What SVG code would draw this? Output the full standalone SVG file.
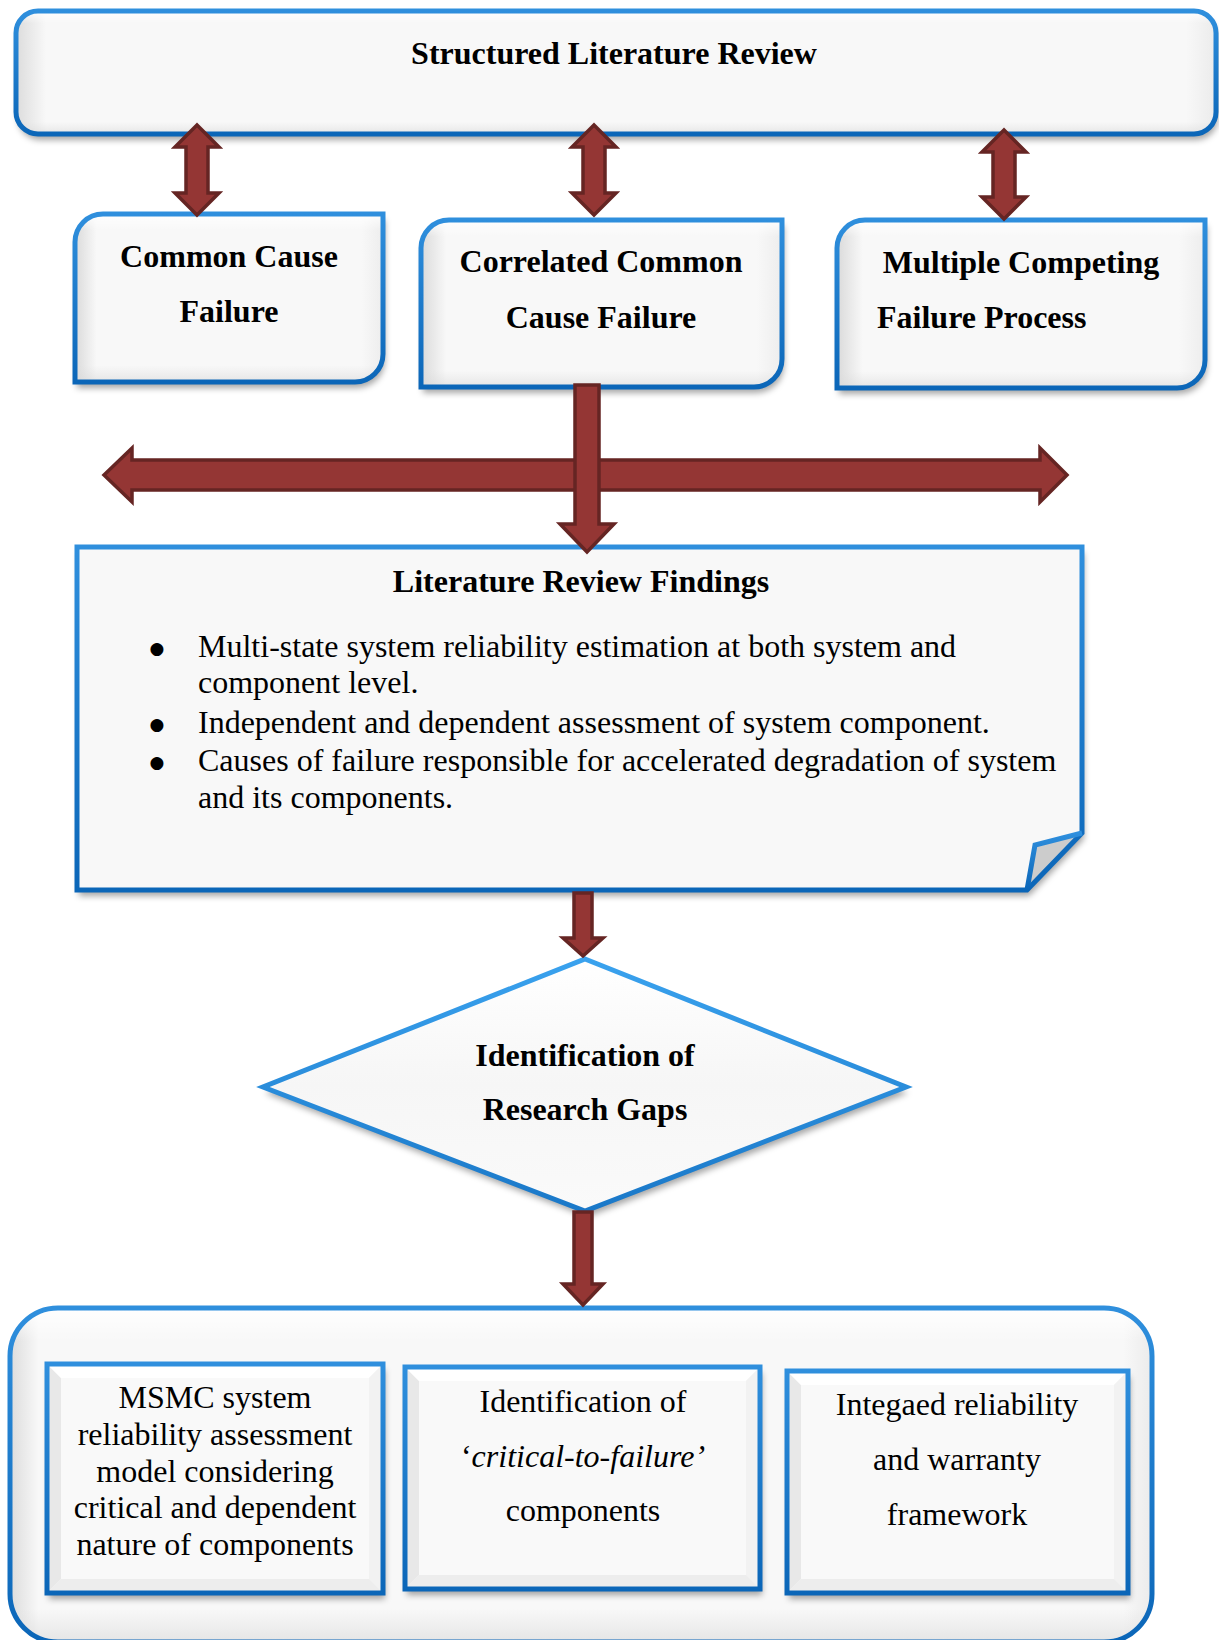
<svg xmlns="http://www.w3.org/2000/svg" width="1219" height="1640" viewBox="0 0 1219 1640">
  <defs>
    <style>
      .t { font-family: "Liberation Serif", "Times New Roman", serif; font-size: 32px; fill: #000; }
      .b { font-weight: bold; }
      .c { text-anchor: middle; }
      .bullet { font-family: "DejaVu Sans", sans-serif; font-size: 17px; text-anchor: middle; fill: #000; }
      .edge { fill: none; stroke: url(#edgeBlue); stroke-width: 5; }
      .edge2 { fill: none; stroke: url(#edgeBright); stroke-width: 5; stroke-linejoin: miter; }
      .arrow { fill: #943634; stroke: #652523; stroke-width: 3.5; stroke-linejoin: miter; }
      .facetL { fill: #E8E8E8; }
      .facetT { fill: #FFFFFF; }
      .facetR { fill: #F2F2F2; }
      .facetB { fill: #EDEDED; }
      .face { fill: #F9F9F9; }
    </style>
    <linearGradient id="edgeBlue" x1="0" y1="0" x2="0" y2="1">
      <stop offset="0" stop-color="#2F8FDD"/>
      <stop offset="1" stop-color="#0B66B8"/>
    </linearGradient>
    <linearGradient id="edgeBright" x1="0" y1="0" x2="0" y2="1">
      <stop offset="0" stop-color="#3AA2EE"/>
      <stop offset="1" stop-color="#1A78C8"/>
    </linearGradient>
    <!-- soft bevel shading for the rounded panels -->
    <linearGradient id="shadeH" x1="0" y1="0" x2="1" y2="0">
      <stop offset="0" stop-color="#DADADA"/>
      <stop offset="0.07" stop-color="#F8F8F8"/>
      <stop offset="0.93" stop-color="#F8F8F8"/>
      <stop offset="1" stop-color="#EDEDED"/>
    </linearGradient>
    <linearGradient id="shadeV" x1="0" y1="0" x2="0" y2="1">
      <stop offset="0" stop-color="#FFFFFF" stop-opacity="0.9"/>
      <stop offset="0.1" stop-color="#FFFFFF" stop-opacity="0"/>
      <stop offset="0.9" stop-color="#DDDDDD" stop-opacity="0"/>
      <stop offset="1" stop-color="#D8D8D8" stop-opacity="0.6"/>
    </linearGradient>
    <linearGradient id="shadeHwide" x1="0" y1="0" x2="1" y2="0">
      <stop offset="0" stop-color="#DCDCDC"/>
      <stop offset="0.025" stop-color="#F8F8F8"/>
      <stop offset="0.975" stop-color="#F8F8F8"/>
      <stop offset="1" stop-color="#EBEBEB"/>
    </linearGradient>
    <linearGradient id="diamondFill" x1="0" y1="0" x2="0" y2="1">
      <stop offset="0" stop-color="#FFFFFF"/>
      <stop offset="0.5" stop-color="#F6F6F6"/>
      <stop offset="1" stop-color="#FAFAFA"/>
    </linearGradient>
    <filter id="shadow" x="-10%" y="-10%" width="120%" height="130%">
      <feDropShadow dx="2" dy="6" stdDeviation="3" flood-color="#000" flood-opacity="0.35"/>
    </filter>
  </defs>

  <rect width="1219" height="1640" fill="#FFFFFF"/>

  <!-- Structured Literature Review -->
  <g id="structured-review">
    <rect x="16" y="11" width="1200" height="123" rx="22" fill="url(#shadeHwide)" filter="url(#shadow)"/>
    <rect x="16" y="11" width="1200" height="123" rx="22" fill="url(#shadeV)"/>
    <rect x="16" y="11" width="1200" height="123" rx="22" class="edge"/>
    <text class="t b c" x="614" y="64">Structured Literature Review</text>
  </g>

  <!-- Common Cause Failure -->
  <g id="common-cause">
    <path d="M103,214 H383 V354 A28,28 0 0 1 355,382 H75 V242 A28,28 0 0 1 103,214 Z" fill="url(#shadeH)" filter="url(#shadow)"/>
    <path d="M103,214 H383 V354 A28,28 0 0 1 355,382 H75 V242 A28,28 0 0 1 103,214 Z" fill="url(#shadeV)"/>
    <path d="M103,214 H383 V354 A28,28 0 0 1 355,382 H75 V242 A28,28 0 0 1 103,214 Z" class="edge"/>
    <text class="t b c" x="229" y="267">Common Cause</text>
    <text class="t b c" x="229" y="322">Failure</text>
  </g>

  <!-- Correlated Common Cause Failure -->
  <g id="correlated-ccf">
    <path d="M449,220 H782 V359 A28,28 0 0 1 754,387 H421 V248 A28,28 0 0 1 449,220 Z" fill="url(#shadeH)" filter="url(#shadow)"/>
    <path d="M449,220 H782 V359 A28,28 0 0 1 754,387 H421 V248 A28,28 0 0 1 449,220 Z" fill="url(#shadeV)"/>
    <path d="M449,220 H782 V359 A28,28 0 0 1 754,387 H421 V248 A28,28 0 0 1 449,220 Z" class="edge"/>
    <text class="t b c" x="601" y="272">Correlated Common</text>
    <text class="t b c" x="601" y="328">Cause Failure</text>
  </g>

  <!-- Multiple Competing Failure Process -->
  <g id="multiple-competing">
    <path d="M865,220 H1205 V360 A28,28 0 0 1 1177,388 H837 V248 A28,28 0 0 1 865,220 Z" fill="url(#shadeH)" filter="url(#shadow)"/>
    <path d="M865,220 H1205 V360 A28,28 0 0 1 1177,388 H837 V248 A28,28 0 0 1 865,220 Z" fill="url(#shadeV)"/>
    <path d="M865,220 H1205 V360 A28,28 0 0 1 1177,388 H837 V248 A28,28 0 0 1 865,220 Z" class="edge"/>
    <text class="t b c" x="1021" y="273">Multiple Competing</text>
    <text class="t b" x="877" y="328">Failure Process</text>
  </g>

  <!-- Literature Review Findings (folded-corner note) -->
  <g id="findings">
    <path d="M77,547 H1082 V833 L1027,890 H77 Z" fill="#F8F8F8" filter="url(#shadow)"/>
    <path d="M1082,833 L1035,845 L1027,890 Z" fill="#CCCCCC"/>
    <path d="M77,547 H1082 V833 L1027,890 H77 Z" class="edge"/>
    <path d="M1082,833 L1035,845 L1027,890" class="edge"/>
    <text class="t b c" x="581" y="592">Literature Review Findings</text>
    <text class="bullet" x="157" y="654">●</text>
    <text class="t" x="198" y="657">Multi-state system reliability estimation at both system and</text>
    <text class="t" x="198" y="693">component level.</text>
    <text class="bullet" x="157" y="730">●</text>
    <text class="t" x="198" y="733">Independent and dependent assessment of system component.</text>
    <text class="bullet" x="157" y="768">●</text>
    <text class="t" x="198" y="771">Causes of failure responsible for accelerated degradation of system</text>
    <text class="t" x="198" y="808">and its components.</text>
  </g>

  <!-- Identification of Research Gaps -->
  <g id="research-gaps">
    <polygon points="585,959 906,1087 585,1211 263,1087" fill="url(#diamondFill)" filter="url(#shadow)"/>
    <polygon points="585,959 906,1087 585,1211 263,1087" class="edge2"/>
    <text class="t b c" x="585" y="1066">Identification of</text>
    <text class="t b c" x="585" y="1120">Research Gaps</text>
  </g>

  <!-- Outcomes container -->
  <g id="outcomes">
    <rect x="10" y="1308" width="1142" height="334" rx="48" fill="url(#shadeHwide)"/>
    <rect x="10" y="1308" width="1142" height="334" rx="48" fill="url(#shadeV)"/>
    <rect x="10" y="1308" width="1142" height="334" rx="48" class="edge"/>
  </g>

  <!-- MSMC model box (bevelled) -->
  <g id="msmc-model">
    <rect x="47" y="1364" width="336" height="229" fill="#F4F4F4" filter="url(#shadow)"/>
    <polygon class="facetL" points="47,1364 61,1378 61,1579 47,1593"/>
    <polygon class="facetT" points="47,1364 383,1364 369,1378 61,1378"/>
    <polygon class="facetR" points="383,1364 383,1593 369,1579 369,1378"/>
    <polygon class="facetB" points="47,1593 61,1579 369,1579 383,1593"/>
    <rect class="face" x="61" y="1378" width="308" height="201"/>
    <rect x="47" y="1364" width="336" height="229" class="edge"/>
    <text class="t c" x="215" y="1408">MSMC system</text>
    <text class="t c" x="215" y="1445">reliability assessment</text>
    <text class="t c" x="215" y="1482">model considering</text>
    <text class="t c" x="215" y="1518">critical and dependent</text>
    <text class="t c" x="215" y="1555">nature of components</text>
  </g>

  <!-- Critical-to-failure components box (bevelled) -->
  <g id="critical-components">
    <rect x="405" y="1367" width="355" height="222" fill="#F4F4F4" filter="url(#shadow)"/>
    <polygon class="facetL" points="405,1367 419,1381 419,1575 405,1589"/>
    <polygon class="facetT" points="405,1367 760,1367 746,1381 419,1381"/>
    <polygon class="facetR" points="760,1367 760,1589 746,1575 746,1381"/>
    <polygon class="facetB" points="405,1589 419,1575 746,1575 760,1589"/>
    <rect class="face" x="419" y="1381" width="327" height="194"/>
    <rect x="405" y="1367" width="355" height="222" class="edge"/>
    <text class="t c" x="583" y="1412">Identification of</text>
    <text class="t c" x="583" y="1467">‘<tspan font-style="italic">critical-to-failure’</tspan></text>
    <text class="t c" x="583" y="1521">components</text>
  </g>

  <!-- Reliability and warranty framework box (bevelled) -->
  <g id="warranty-framework">
    <rect x="787" y="1371" width="341" height="222" fill="#F4F4F4" filter="url(#shadow)"/>
    <polygon class="facetL" points="787,1371 801,1385 801,1579 787,1593"/>
    <polygon class="facetT" points="787,1371 1128,1371 1114,1385 801,1385"/>
    <polygon class="facetR" points="1128,1371 1128,1593 1114,1579 1114,1385"/>
    <polygon class="facetB" points="787,1593 801,1579 1114,1579 1128,1593"/>
    <rect class="face" x="801" y="1385" width="313" height="194"/>
    <rect x="787" y="1371" width="341" height="222" class="edge"/>
    <text class="t c" x="957" y="1415">Integaed reliability</text>
    <text class="t c" x="957" y="1470">and warranty</text>
    <text class="t c" x="957" y="1525">framework</text>
  </g>

  <!-- Connectors: block arrows -->
  <g id="connectors">
    <polygon class="arrow" points="197,125 219,147 208,147 208,193 219,193 197,215 175,193 186,193 186,147 175,147"/>
    <polygon class="arrow" points="594,125 616,147 605,147 605,193 616,193 594,215 572,193 583,193 583,147 572,147"/>
    <polygon class="arrow" points="1004,130 1026,152 1015,152 1015,197 1026,197 1004,219 982,197 993,197 993,152 982,152"/>
    <polygon class="arrow" points="104,475 132,448 132,460 1040,460 1040,448 1067,475 1040,502 1040,490 132,490 132,502"/>
    <polygon class="arrow" points="575,385 599,385 599,524 614,524 587,552 560,524 575,524"/>
    <polygon class="arrow" points="574,893 592,893 592,938 603,938 583,956 563,938 574,938"/>
    <polygon class="arrow" points="574,1212 592,1212 592,1284 603,1284 583,1305 563,1284 574,1284"/>
  </g>
</svg>
